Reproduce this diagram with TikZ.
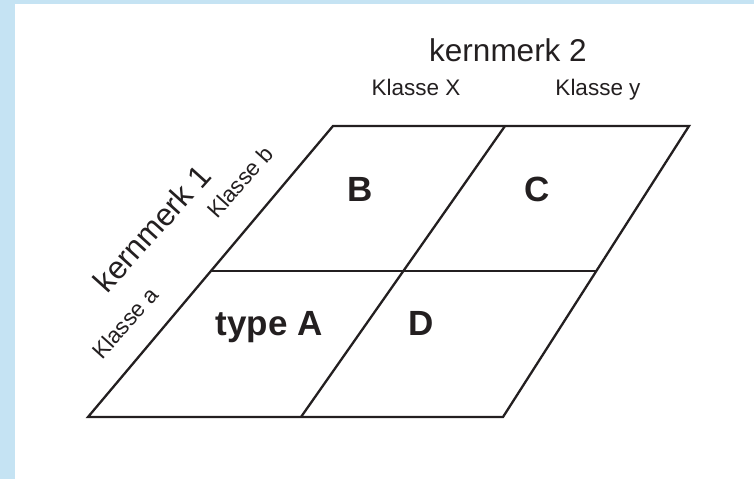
\documentclass[tikz,border=0pt]{standalone}
\usepackage{fontspec}
\setmainfont{Liberation Sans}
\definecolor{bgblue}{RGB}{197,227,243}
\definecolor{ink}{RGB}{35,31,32}
\tikzset{
  gridline/.style={draw=ink, line width=2.3pt},
  bigtxt/.style={text=ink, inner sep=0pt, font=\fontsize{31.5}{31.5}\selectfont},
  smalltxt/.style={text=ink, inner sep=0pt, font=\fontsize{22.5}{22.5}\selectfont},
  celltxt/.style={text=ink, inner sep=0pt, font=\fontsize{35}{35}\selectfont\bfseries},
}
\begin{document}
\begin{tikzpicture}[x=1pt,y=-1pt]
\useasboundingbox (0,0) rectangle (754,479);
\fill[bgblue] (0,0) rectangle (754,4);
\fill[bgblue] (0,0) rectangle (15,479);
% corners
\coordinate (TL) at (333,126);
\coordinate (TM) at (505,126);
\coordinate (TR) at (689,126);
\coordinate (ML) at (212,271);
\coordinate (MM) at (403,271);
\coordinate (MR) at (596,271);
\coordinate (BL) at (88,417);
\coordinate (BM) at (301,417);
\coordinate (BR) at (503,417);
% grid
\draw[gridline] (TL) -- (TR) -- (BR) -- (BL) -- cycle;
\draw[gridline] (ML) -- (MR);
\draw[gridline] (TM) -- (BM);
% labels
\node[bigtxt, anchor=base] (k2) at (508,61) {kernmerk 2};
\node[smalltxt, anchor=base] (kx) at (416,95.5) {Klasse X};
\node[smalltxt, anchor=base] (ky) at (598,95.5) {Klasse y};
\node[bigtxt, rotate=48] (k1) at (152,228) {kernmerk 1};
\node[smalltxt, rotate=48] (ka) at (125,323) {Klasse a};
\node[smalltxt, rotate=48] (kb) at (240,182) {Klasse b};
\node[celltxt, anchor=base] (cB) at (360.5,201) {B};
\node[celltxt, anchor=base] (cC) at (537,201) {C};
\node[celltxt, anchor=base] (cA) at (269,335) {type A};
\node[celltxt, anchor=base] (cD) at (421.5,335) {D};
\end{tikzpicture}
\end{document}
